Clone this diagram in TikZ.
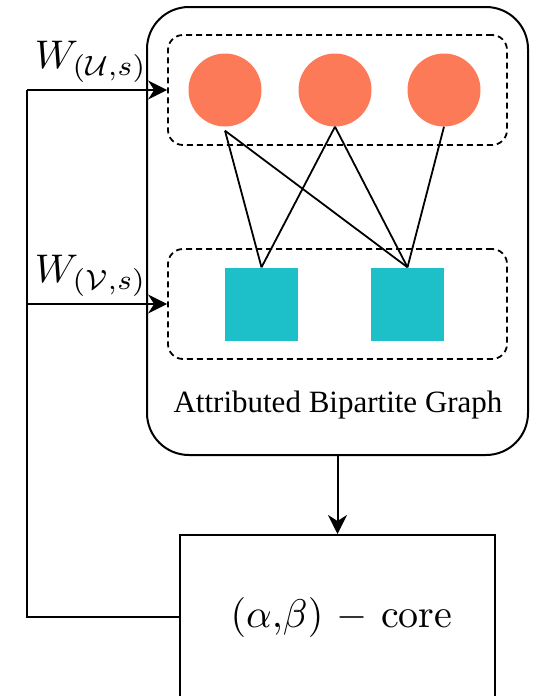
\documentclass[tikz,border=0pt]{standalone}
\usepackage{fontspec}
\newfontfamily\captionfont{Liberation Serif}
\usetikzlibrary{arrows.meta}

\definecolor{vcoral}{RGB}{253,122,88}
\definecolor{vteal}{RGB}{29,191,200}

\tikzset{
  frame/.style={draw, line width=2pt, rounded corners=42pt, minimum width=381pt, minimum height=448pt, inner sep=0pt},
  group/.style={draw, line width=1.8pt, dash pattern=on 6pt off 4pt, rounded corners=15pt, minimum width=339pt, minimum height=110pt, inner sep=0pt},
  uvert/.style={circle, fill=vcoral, minimum size=73pt, inner sep=0pt},
  vvert/.style={rectangle, fill=vteal, minimum size=73pt, inner sep=0pt},
  edge/.style={line width=1.8pt},
  flow/.style={line width=2pt, -{Stealth[length=19pt,width=19pt,inset=6pt]}},
  wire/.style={line width=2pt},
  corebox/.style={draw, line width=2pt, minimum width=315pt, minimum height=164pt, inner sep=0pt},
  mathlabel/.style={inner sep=0pt, font=\normalsize, scale=4},
}

\begin{document}
\begin{tikzpicture}[x=1pt, y=-1pt]
  \useasboundingbox (0,0) rectangle (539,696);

  % attributed bipartite graph container
  \node[frame] (graph) at (337.5,231) {};
  \node[group] (ugrp) at (337.5,90) {};
  \node[group] (vgrp) at (337.5,304) {};

  % upper vertex set
  \node[uvert] (u1) at (225,90) {};
  \node[uvert] (u2) at (335,90) {};
  \node[uvert] (u3) at (444,90) {};

  % lower vertex set
  \node[vvert] (v1) at (261.5,304) {};
  \node[vvert] (v2) at (407.5,304) {};

  % edges
  \draw[edge] ([yshift=-4pt]u1.south) -- (v1.north);
  \draw[edge] ([yshift=-4pt]u1.south) -- (v2.north);
  \draw[edge] (u2.south) -- (v1.north);
  \draw[edge] (u2.south) -- (v2.north);
  \draw[edge] (u3.south) -- (v2.north);

  \node[anchor=base, inner sep=0pt, font=\captionfont\normalsize, scale=3.1] (cap) at (338,412) {Attributed Bipartite Graph};

  % core computation
  \node[corebox] (core) at (337.5,617) {};
  \node[mathlabel] (coretxt) at (341.5,617) {$(\alpha{,}\beta)\ {-}\ \mathrm{core}$};

  \draw[flow] (graph.south) -- (core.north);

  % feedback of the weights to both vertex sets
  \coordinate (fbot) at (27,617);
  \coordinate (fu) at (27,90);
  \coordinate (fv) at (27,304);
  \draw[wire] (core.west) -- (fbot) -- (fu);
  \draw[flow] (fu) -- (ugrp.west);
  \draw[flow] (fv) -- (vgrp.west);

  \node[mathlabel, anchor=base west] (wu) at (34,68) {$W_{(\mathcal{U},s)}$};
  \node[mathlabel, anchor=base west] (wv) at (34,282) {$W_{(\mathcal{V},s)}$};
\end{tikzpicture}
\end{document}
